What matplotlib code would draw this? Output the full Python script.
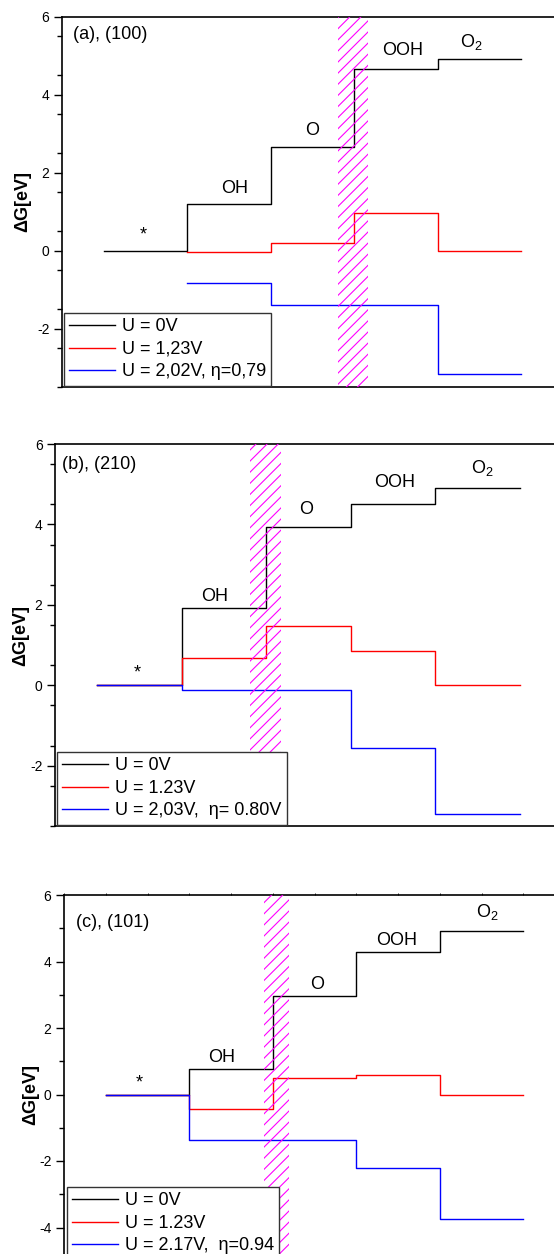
import numpy as np
from matplotlib import pyplot as plt

plt.rcParams['font.family'] = ['Liberation Sans', 'DejaVu Sans']
plt.rcParams['axes.unicode_minus'] = False
plt.rcParams['mathtext.fontset'] = 'custom'
plt.rcParams['mathtext.rm'] = 'Liberation Sans'
plt.rcParams['mathtext.default'] = 'regular'
plt.rcParams['hatch.linewidth'] = 0.8

W, H = 554, 1254

# steps: *, OH, O, OOH, O2
species = ['*', 'OH', 'O', 'OOH', 'O$_2$']

a_u0 = [0.0, 1.19, 2.65, 4.67, 4.91]
a_u1 = [np.nan, -0.04, 0.19, 0.98, 0.0]
a_u2 = [np.nan, -0.83, -1.39, -1.39, -3.16]

b_u0 = [0.0, 1.91, 3.94, 4.52, 4.91]
b_u1 = [0.0, 0.69, 1.48, 0.85, 0.01]
b_u2 = [0.0, -0.11, -0.11, -1.56, -3.20]

c_u0 = [0.0, 0.78, 2.96, 4.29, 4.92]
c_u1 = [0.0, -0.44, 0.50, 0.60, 0.0]
c_u2 = [0.0, -1.38, -1.38, -2.22, -3.75]

a_labels = ['U = 0V', 'U = 1,23V', 'U = 2,02V, η=0,79']
b_labels = ['U = 0V', 'U = 1.23V', 'U = 2,03V,  η= 0.80V']
c_labels = ['U = 0V', 'U = 1.23V', 'U = 2.17V,  η=0.94']

a_band = (2.80, 3.16)
b_band = (1.81, 2.18)
c_band = (1.89, 2.19)

# label positions (x, y) for *, OH, O, OOH, O2
a_txt = [(0.47, 0.41), (1.57, 1.59), (2.50, 3.08), (3.58, 5.13), (4.40, 5.36)]
b_txt = [(0.47, 0.31), (1.39, 2.21), (2.47, 4.38), (3.52, 5.04), (4.56, 5.40)]
c_txt = [(0.40, 0.35), (1.39, 1.11), (2.53, 3.32), (3.48, 4.64), (4.57, 5.49)]

colors = ['black', 'red', 'blue']


def px_axes(left, top, right, bottom):
    return fig.add_axes([left / W, 1 - bottom / H, (right - left) / W, (bottom - top) / H])


def panel(ax, series, labels, band, txt, title, title_xy, ylim, yticks, leg_xy, tick_fs, top_ticks=False):
    x = np.arange(6)
    for lv, col, lab in zip(series, colors, labels):
        y = list(lv) + [lv[-1]]
        ax.plot(x, y, drawstyle='steps-post', color=col, lw=1.0, label=lab, zorder=2)
    ax.axvspan(band[0], band[1], facecolor='none', edgecolor='#ff00ff', hatch='///', lw=0, zorder=3)
    for s, (tx, ty) in zip(species, txt):
        ax.text(tx, ty, s, ha='center', va='center', fontsize=13)
    ax.text(title_xy[0], title_xy[1], title, ha='left', va='center', fontsize=13)
    ax.set_xlim(-0.5, 5.5)
    ax.set_ylim(*ylim)
    ax.set_yticks(yticks)
    ax.set_yticks(np.arange(ylim[0], 6.01, 1.0), minor=True)
    ax.tick_params(axis='y', which='major', direction='out', length=6, width=1, labelsize=tick_fs, pad=3)
    ax.tick_params(axis='y', which='minor', direction='out', length=3.5, width=1)
    ax.set_xticks([])
    if top_ticks:
        ax.set_xticks(np.arange(-0.5, 5.51, 0.5), minor=True)
        ax.tick_params(axis='x', which='minor', top=True, bottom=False, direction='out', length=1.5)
    for sp in ax.spines.values():
        sp.set_linewidth(1.2)
    ax.set_ylabel('ΔG[eV]', fontsize=13, fontweight='bold')
    leg = ax.legend(loc='upper left', bbox_to_anchor=(leg_xy[0] / W, 1 - leg_xy[1] / H),
                    bbox_transform=fig.transFigure, borderaxespad=0, fancybox=False,
                    framealpha=1, edgecolor='#333333', fontsize=13, handlelength=2.5,
                    handletextpad=0.4, labelspacing=0.3, borderpad=0.3)
    leg.get_frame().set_linewidth(1.0)
    leg.set_zorder(5)


fig = plt.figure(figsize=(W / 100, H / 100), dpi=100)

ax1 = px_axes(62, 17, 563, 387)
panel(ax1, [a_u0, a_u1, a_u2], a_labels, a_band, a_txt, '(a), (100)', (-0.37, 5.54),
      (-3.5, 6), [-2, 0, 2, 4, 6], (64, 313), 10)
ax1.yaxis.set_label_coords(-0.062, 0.5)

ax2 = px_axes(55, 444, 562, 826)
panel(ax2, [b_u0, b_u1, b_u2], b_labels, b_band, b_txt, '(b), (210)', (-0.42, 5.48),
      (-3.5, 6), [-2, 0, 2, 4, 6], (57, 752), 10)
ax2.yaxis.set_label_coords(-0.05, 0.5)

ax3 = px_axes(64, 895, 565, 1294)
panel(ax3, [c_u0, c_u1, c_u2], c_labels, c_band, c_txt, '(c), (101)', (-0.36, 5.16),
      (-6, 6), [-4, -2, 0, 2, 4, 6], (67, 1187), 10, top_ticks=True)
ax3.yaxis.set_label_coords(-0.05, 0.5)

fig.savefig('out.png', dpi=100)
